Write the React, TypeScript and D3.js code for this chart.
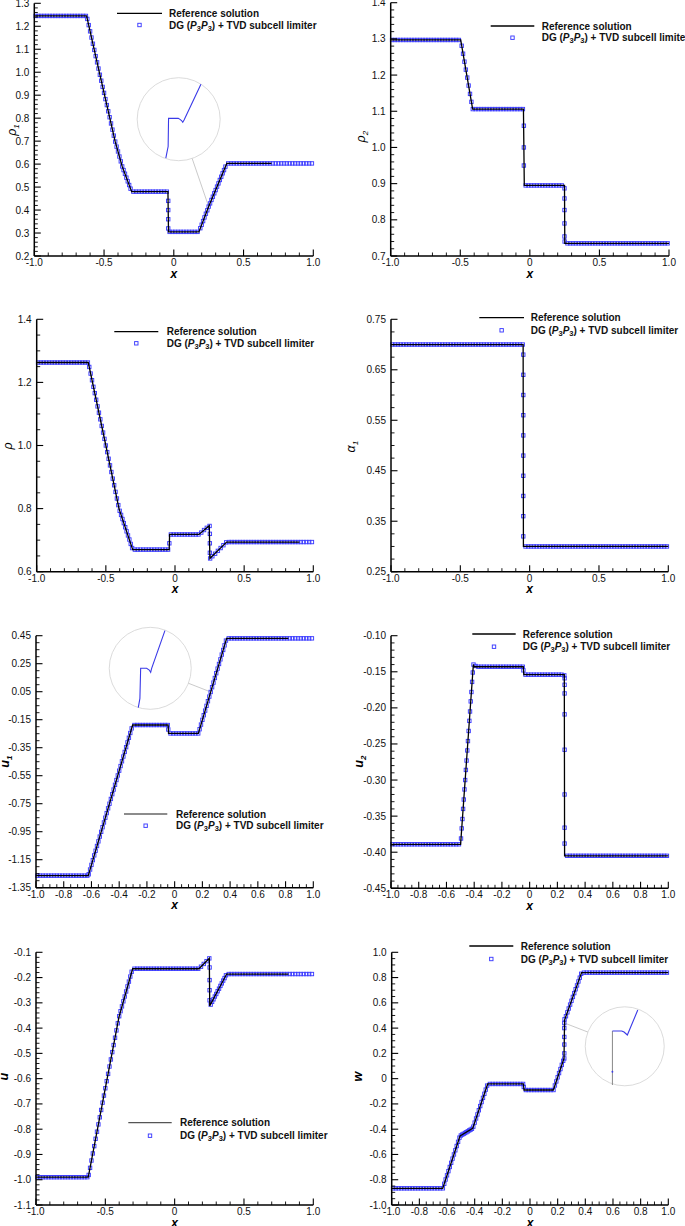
import React from "react";
import * as d3 from "d3";

// shared x grid of the DG output (cell centres)
const X = [
  -0.99,-0.97,-0.95,-0.93,-0.91,-0.89,-0.87,-0.85,-0.83,-0.81,
  -0.79,-0.77,-0.75,-0.73,-0.71,-0.69,-0.67,-0.65,-0.63,-0.61,
  -0.59,-0.57,-0.55,-0.53,-0.51,-0.49,-0.47,-0.45,-0.43,-0.41,
  -0.39,-0.37,-0.35,-0.33,-0.31,-0.29,-0.27,-0.25,-0.23,-0.21,
  -0.19,-0.17,-0.15,-0.13,-0.11,-0.09,-0.07,-0.05,-0.03,-0.01,
  0.01,0.03,0.05,0.07,0.09,0.11,0.13,0.15,0.17,0.19,
  0.21,0.23,0.25,0.27,0.29,0.31,0.33,0.35,0.37,0.39,
  0.41,0.43,0.45,0.47,0.49,0.51,0.53,0.55,0.57,0.59,
  0.61,0.63,0.65,0.67,0.69,0.71,0.73,0.75,0.77,0.79,
  0.81,0.83,0.85,0.87,0.89,0.91,0.93,0.95,0.97,0.99,
];

// ---------- DG (P3P3) + TVD subcell limiter values ----------
const DG_RHO1 = [
  1.245,1.245,1.245,1.245,1.245,1.245,1.245,1.245,1.245,1.245,
  1.245,1.245,1.245,1.245,1.245,1.245,1.245,1.245,1.245,1.205,
  1.151,1.097,1.043,0.989,0.936,0.883,0.830,0.777,0.724,0.676,
  0.633,0.590,0.558,0.525,0.493,0.48,0.48,0.48,0.48,0.48,
  0.48,0.48,0.48,0.48,0.48,0.48,0.48,0.48,0.305,0.305,
  0.305,0.305,0.305,0.305,0.305,0.305,0.305,0.305,0.305,0.321,
  0.352,0.384,0.415,0.444,0.473,0.502,0.531,0.560,0.589,0.603,
  0.603,0.603,0.603,0.603,0.603,0.603,0.603,0.603,0.603,0.603,
  0.603,0.603,0.603,0.603,0.603,0.603,0.603,0.603,0.603,0.603,
  0.603,0.603,0.603,0.603,0.603,0.603,0.603,0.603,0.603,0.603,
];
const DG_RHO2 = [
  1.297,1.297,1.297,1.297,1.297,1.297,1.297,1.297,1.297,1.297,
  1.297,1.297,1.297,1.297,1.297,1.297,1.297,1.297,1.297,1.297,
  1.297,1.297,1.297,1.297,1.297,1.281,1.237,1.193,1.148,1.106,
  1.106,1.106,1.106,1.106,1.106,1.106,1.106,1.106,1.106,1.106,
  1.106,1.106,1.106,1.106,1.106,1.106,1.106,1.106,0.895,0.895,
  0.895,0.895,0.895,0.895,0.895,0.895,0.895,0.895,0.895,0.895,
  0.895,0.895,0.740,0.735,0.735,0.735,0.735,0.735,0.735,0.735,
  0.735,0.735,0.735,0.735,0.735,0.735,0.735,0.735,0.735,0.735,
  0.735,0.735,0.735,0.735,0.735,0.735,0.735,0.735,0.735,0.735,
  0.735,0.735,0.735,0.735,0.735,0.735,0.735,0.735,0.735,0.735,
];
const DG_RHO = [
  1.263,1.263,1.263,1.263,1.263,1.263,1.263,1.263,1.263,1.263,
  1.263,1.263,1.263,1.263,1.263,1.263,1.263,1.263,1.263,1.228,
  1.186,1.145,1.104,1.062,1.021,0.979,0.937,0.895,0.853,0.811,
  0.780,0.754,0.728,0.702,0.675,0.670,0.670,0.670,0.670,0.670,
  0.670,0.670,0.670,0.670,0.670,0.670,0.670,0.670,0.718,0.718,
  0.718,0.718,0.718,0.718,0.718,0.718,0.718,0.718,0.718,0.724,
  0.732,0.739,0.745,0.649,0.657,0.666,0.675,0.684,0.693,0.694,
  0.694,0.694,0.694,0.694,0.694,0.694,0.694,0.694,0.694,0.694,
  0.694,0.694,0.694,0.694,0.694,0.694,0.694,0.694,0.694,0.694,
  0.694,0.694,0.694,0.694,0.694,0.694,0.694,0.694,0.694,0.694,
];
const DG_ALPHA1 = [
  0.70,0.70,0.70,0.70,0.70,0.70,0.70,0.70,0.70,0.70,
  0.70,0.70,0.70,0.70,0.70,0.70,0.70,0.70,0.70,0.70,
  0.70,0.70,0.70,0.70,0.70,0.70,0.70,0.70,0.70,0.70,
  0.70,0.70,0.70,0.70,0.70,0.70,0.70,0.70,0.70,0.70,
  0.70,0.70,0.70,0.70,0.70,0.70,0.70,0.70,0.30,0.30,
  0.30,0.30,0.30,0.30,0.30,0.30,0.30,0.30,0.30,0.30,
  0.30,0.30,0.30,0.30,0.30,0.30,0.30,0.30,0.30,0.30,
  0.30,0.30,0.30,0.30,0.30,0.30,0.30,0.30,0.30,0.30,
  0.30,0.30,0.30,0.30,0.30,0.30,0.30,0.30,0.30,0.30,
  0.30,0.30,0.30,0.30,0.30,0.30,0.30,0.30,0.30,0.30,
];
const DG_U1 = [
  -1.264,-1.264,-1.264,-1.264,-1.264,-1.264,-1.264,-1.264,-1.264,-1.264,
  -1.264,-1.264,-1.264,-1.264,-1.264,-1.264,-1.264,-1.264,-1.264,-1.220,
  -1.153,-1.086,-1.019,-0.951,-0.884,-0.817,-0.750,-0.682,-0.615,-0.548,
  -0.481,-0.413,-0.346,-0.279,-0.212,-0.188,-0.188,-0.188,-0.188,-0.188,
  -0.188,-0.188,-0.188,-0.188,-0.188,-0.188,-0.188,-0.188,-0.248,-0.248,
  -0.248,-0.248,-0.248,-0.248,-0.248,-0.248,-0.248,-0.248,-0.248,-0.185,
  -0.118,-0.051,0.015,0.082,0.148,0.215,0.281,0.348,0.415,0.431,
  0.431,0.431,0.431,0.431,0.431,0.431,0.431,0.431,0.431,0.431,
  0.431,0.431,0.431,0.431,0.431,0.431,0.431,0.431,0.431,0.431,
  0.431,0.431,0.431,0.431,0.431,0.431,0.431,0.431,0.431,0.431,
];
const DG_U2 = [
  -0.389,-0.389,-0.389,-0.389,-0.389,-0.389,-0.389,-0.389,-0.389,-0.389,
  -0.389,-0.389,-0.389,-0.389,-0.389,-0.389,-0.389,-0.389,-0.389,-0.389,
  -0.389,-0.389,-0.389,-0.389,-0.389,-0.367,-0.313,-0.259,-0.205,-0.151,
  -0.142,-0.143,-0.143,-0.143,-0.143,-0.143,-0.143,-0.143,-0.143,-0.143,
  -0.143,-0.143,-0.143,-0.143,-0.143,-0.143,-0.143,-0.143,-0.154,-0.154,
  -0.154,-0.154,-0.154,-0.154,-0.154,-0.154,-0.154,-0.154,-0.154,-0.154,
  -0.154,-0.154,-0.155,-0.405,-0.405,-0.405,-0.405,-0.405,-0.405,-0.405,
  -0.405,-0.405,-0.405,-0.405,-0.405,-0.405,-0.405,-0.405,-0.405,-0.405,
  -0.405,-0.405,-0.405,-0.405,-0.405,-0.405,-0.405,-0.405,-0.405,-0.405,
  -0.405,-0.405,-0.405,-0.405,-0.405,-0.405,-0.405,-0.405,-0.405,-0.405,
];
const DG_U = [
  -0.99,-0.99,-0.99,-0.99,-0.99,-0.99,-0.99,-0.99,-0.99,-0.99,
  -0.99,-0.99,-0.99,-0.99,-0.99,-0.99,-0.99,-0.99,-0.99,-0.953,
  -0.896,-0.838,-0.781,-0.724,-0.667,-0.610,-0.552,-0.495,-0.438,-0.381,
  -0.333,-0.294,-0.255,-0.216,-0.177,-0.165,-0.165,-0.165,-0.165,-0.165,
  -0.165,-0.165,-0.165,-0.165,-0.165,-0.165,-0.165,-0.165,-0.165,-0.165,
  -0.165,-0.165,-0.165,-0.165,-0.165,-0.165,-0.165,-0.165,-0.165,-0.157,
  -0.146,-0.135,-0.124,-0.296,-0.275,-0.254,-0.233,-0.212,-0.191,-0.186,
  -0.186,-0.186,-0.186,-0.186,-0.186,-0.186,-0.186,-0.186,-0.186,-0.186,
  -0.186,-0.186,-0.186,-0.186,-0.186,-0.186,-0.186,-0.186,-0.186,-0.186,
  -0.186,-0.186,-0.186,-0.186,-0.186,-0.186,-0.186,-0.186,-0.186,-0.186,
];
const DG_W = [
  -0.868,-0.868,-0.868,-0.868,-0.868,-0.868,-0.868,-0.868,-0.868,-0.868,
  -0.868,-0.868,-0.868,-0.868,-0.868,-0.868,-0.868,-0.868,-0.868,-0.798,
  -0.732,-0.666,-0.600,-0.533,-0.467,-0.443,-0.430,-0.417,-0.404,-0.380,
  -0.315,-0.250,-0.185,-0.120,-0.055,-0.042,-0.042,-0.042,-0.042,-0.042,
  -0.042,-0.042,-0.042,-0.042,-0.042,-0.042,-0.042,-0.042,-0.090,-0.090,
  -0.090,-0.090,-0.090,-0.090,-0.090,-0.090,-0.090,-0.090,-0.090,-0.022,
  0.044,0.109,0.470,0.525,0.586,0.647,0.708,0.769,0.830,0.839,
  0.839,0.839,0.839,0.839,0.839,0.839,0.839,0.839,0.839,0.839,
  0.839,0.839,0.839,0.839,0.839,0.839,0.839,0.839,0.839,0.839,
  0.839,0.839,0.839,0.839,0.839,0.839,0.839,0.839,0.839,0.839,
];

// extra DG sub-cell samples (inside discontinuities and along steep waves) [x, value]
const EX_RHO1 = [
  [-0.04,0.44],[-0.04,0.40],[-0.04,0.36],[-0.04,0.32],
  [-0.62,1.232],[-0.60,1.178],[-0.58,1.124],[-0.56,1.070],[-0.54,1.016],[-0.52,0.963],[-0.50,0.910],[-0.48,0.857],
  [-0.46,0.804],[-0.44,0.750],[-0.42,0.698],[-0.40,0.655],[-0.38,0.612],[-0.36,0.574],[-0.34,0.541],[-0.32,0.509],
  [0.20,0.336],[0.22,0.368],[0.24,0.399],[0.26,0.429],[0.28,0.458],[0.30,0.487],[0.32,0.516],[0.34,0.545],[0.36,0.574],
];
const EX_RHO2 = [
  [-0.043,1.06],[-0.043,1.0],[-0.043,0.95],[0.249,0.887],[0.249,0.859],[0.249,0.827],[0.249,0.79],[0.249,0.754],
  [-0.48,1.259],[-0.46,1.215],[-0.44,1.171],[-0.42,1.126],
];
const EX_RHO = [
  [-0.041,0.69],[0.252,0.72],[0.252,0.69],[0.252,0.66],[0.254,0.642],
  [-0.62,1.249],[-0.60,1.207],[-0.58,1.166],[-0.56,1.124],[-0.54,1.083],[-0.52,1.041],[-0.50,1.0],[-0.48,0.958],
  [-0.46,0.916],[-0.44,0.874],[-0.42,0.832],[-0.40,0.793],[-0.38,0.767],[-0.36,0.741],[-0.34,0.715],[-0.32,0.688],
];
const EX_ALPHA1 = [[-0.046,0.68],[-0.046,0.64],[-0.046,0.60],[-0.046,0.56],[-0.046,0.52],[-0.046,0.48],[-0.046,0.44],[-0.046,0.40],[-0.046,0.36],[-0.046,0.32]];
const EX_U1 = [
  [-0.046,-0.22],
  [-0.62,-1.254],[-0.60,-1.187],[-0.58,-1.119],[-0.56,-1.052],[-0.54,-0.985],[-0.52,-0.918],[-0.50,-0.850],[-0.48,-0.783],
  [-0.46,-0.716],[-0.44,-0.649],[-0.42,-0.581],[-0.40,-0.514],[-0.38,-0.447],[-0.36,-0.380],[-0.34,-0.312],[-0.32,-0.245],
  [0.18,-0.218],[0.20,-0.151],[0.22,-0.085],[0.24,-0.018],[0.26,0.048],[0.28,0.115],[0.30,0.182],[0.32,0.248],[0.34,0.315],[0.36,0.381],
];
const EX_U2 = [
  [-0.045,-0.148],[0.252,-0.159],[0.252,-0.168],[0.252,-0.180],[0.252,-0.209],[0.252,-0.258],[0.252,-0.320],[0.252,-0.366],[0.252,-0.388],
  [-0.495,-0.381],[-0.485,-0.354],[-0.48,-0.340],[-0.475,-0.327],[-0.465,-0.300],[-0.46,-0.286],[-0.455,-0.273],[-0.445,-0.246],
  [-0.44,-0.232],[-0.435,-0.218],[-0.425,-0.191],[-0.42,-0.178],[-0.415,-0.164],[-0.405,-0.140],
];
const EX_U = [
  [0.252,-0.16],[0.252,-0.21],[0.252,-0.25],[0.252,-0.29],
  [-0.62,-0.981],[-0.60,-0.924],[-0.58,-0.867],[-0.56,-0.810],[-0.54,-0.753],[-0.52,-0.695],[-0.50,-0.638],[-0.48,-0.581],
  [-0.46,-0.524],[-0.44,-0.467],[-0.42,-0.409],[-0.40,-0.353],[-0.38,-0.314],[-0.36,-0.275],[-0.34,-0.235],[-0.32,-0.196],
  [0.26,-0.307],[0.28,-0.286],[0.30,-0.265],[0.32,-0.244],[0.34,-0.223],[0.36,-0.202],
];
const EX_W = [
  [-0.045,-0.066],[0.248,0.16],[0.248,0.20],[0.248,0.27],[0.248,0.33],[0.248,0.40],[0.248,0.44],
  [-0.62,-0.832],[-0.60,-0.765],[-0.58,-0.699],[-0.56,-0.633],[-0.54,-0.567],[-0.52,-0.500],[-0.50,-0.450],[-0.48,-0.437],
  [-0.46,-0.424],[-0.44,-0.410],[-0.42,-0.397],[-0.40,-0.348],[-0.38,-0.283],[-0.36,-0.217],[-0.34,-0.152],[-0.32,-0.087],
  [0.18,-0.054],[0.20,0.011],[0.22,0.076],[0.24,0.141],
  [0.26,0.494],[0.28,0.555],[0.30,0.616],[0.32,0.677],[0.34,0.738],[0.36,0.799],
];

// ---------- reference solution (breakpoints) ----------
const REF_RHO1 = [[-1,1.245],[-0.625,1.245],[-0.534,1.0],[-0.421,0.7],[-0.37,0.59],[-0.302,0.48],[-0.042,0.48],[-0.038,0.305],[0.18,0.305],[0.25,0.415],[0.38,0.603],[0.70,0.603]];
const REF_RHO2 = [[-1,1.297],[-0.497,1.297],[-0.411,1.106],[-0.046,1.106],[-0.04,0.895],[0.249,0.895],[0.251,0.735],[1,0.735]];
const REF_RHO = [[-1,1.263],[-0.627,1.263],[-0.5,1.0],[-0.405,0.8],[-0.306,0.67],[-0.042,0.67],[-0.039,0.718],[0.173,0.718],[0.248,0.746],[0.252,0.642],[0.373,0.694],[0.90,0.694]];
const REF_ALPHA1 = [[-1,0.7],[-0.047,0.7],[-0.045,0.3],[1,0.3]];
const REF_U1 = [[-1,-1.264],[-0.623,-1.264],[-0.303,-0.188],[-0.047,-0.188],[-0.044,-0.248],[0.171,-0.248],[0.375,0.431],[0.82,0.431]];
const REF_U2 = [[-1,-0.389],[-0.498,-0.389],[-0.406,-0.14],[-0.4,-0.143],[-0.046,-0.143],[-0.042,-0.154],[0.25,-0.154],[0.252,-0.405],[1,-0.405]];
const REF_U = [[-1,-0.99],[-0.623,-0.99],[-0.401,-0.355],[-0.303,-0.165],[0.175,-0.165],[0.25,-0.124],[0.253,-0.312],[0.375,-0.186],[0.82,-0.186]];
const REF_W = [[-1,-0.868],[-0.631,-0.868],[-0.506,-0.454],[-0.414,-0.393],[-0.306,-0.042],[-0.048,-0.042],[-0.043,-0.09],[0.169,-0.09],[0.246,0.161],[0.25,0.464],[0.373,0.839],[1,0.839]];

// ---------- ticks ----------
const XT_HALF = [-1, -0.5, 0, 0.5, 1];
const XL_HALF = ["-1.0", "-0.5", "0", "0.5", "1.0"];
const XT_FIFTH = [-1, -0.8, -0.6, -0.4, -0.2, 0, 0.2, 0.4, 0.6, 0.8, 1];
const XL_FIFTH = ["-1.0", "-0.8", "-0.6", "-0.4", "-0.2", "0", "0.2", "0.4", "0.6", "0.8", "1.0"];
const YT_RHO1 = [1.3, 1.2, 1.1, 1.0, 0.9, 0.8, 0.7, 0.6, 0.5, 0.4, 0.3, 0.2];
const YL_RHO1 = ["1.3", "1.2", "1.1", "1.0", "0.9", "0.8", "0.7", "0.6", "0.5", "0.4", "0.3", "0.2"];
const YT_RHO2 = [1.4, 1.3, 1.2, 1.1, 1.0, 0.9, 0.8, 0.7];
const YL_RHO2 = ["1.4", "1.3", "1.2", "1.1", "1.0", "0.9", "0.8", "0.7"];
const YT_RHO = [1.4, 1.2, 1.0, 0.8, 0.6];
const YL_RHO = ["1.4", "1.2", "1.0", "0.8", "0.6"];
const YT_ALPHA1 = [0.75, 0.65, 0.55, 0.45, 0.35, 0.25];
const YL_ALPHA1 = ["0.75", "0.65", "0.55", "0.45", "0.35", "0.25"];
const YT_U1 = [0.45, 0.25, 0.05, -0.15, -0.35, -0.55, -0.75, -0.95, -1.15, -1.35];
const YL_U1 = ["0.45", "0.25", "0.05", "-0.15", "-0.35", "-0.55", "-0.75", "-0.95", "-1.15", "-1.35"];
const YT_U2 = [-0.1, -0.15, -0.2, -0.25, -0.3, -0.35, -0.4, -0.45];
const YL_U2 = ["-0.10", "-0.15", "-0.20", "-0.25", "-0.30", "-0.35", "-0.40", "-0.45"];
const YT_U = [-0.1, -0.2, -0.3, -0.4, -0.5, -0.6, -0.7, -0.8, -0.9, -1.0, -1.1];
const YL_U = ["-0.1", "-0.2", "-0.3", "-0.4", "-0.5", "-0.6", "-0.7", "-0.8", "-0.9", "-1.0", "-1.1"];
const YT_W = [1.0, 0.8, 0.6, 0.4, 0.2, 0, -0.2, -0.4, -0.6, -0.8, -1.0];
const YL_W = ["1.0", "0.8", "0.6", "0.4", "0.2", "0", "-0.2", "-0.4", "-0.6", "-0.8", "-1.0"];

// ---------- inset (magnified views), local unit coordinates ----------
const INSET_RHO1 = [[0.345,0.032],[0.361,0.111],[0.373,0.171],[0.378,0.51],[0.495,0.51],[0.516,0.498],[0.534,0.484],[0.549,0.463],[0.565,0.49],[0.768,0.92]];
const INSET_U1 = [[0.354,0.02],[0.374,0.134],[0.383,0.5],[0.456,0.5],[0.488,0.479],[0.505,0.451],[0.517,0.5],[0.679,0.96]];
const INSET_W_REF = [[0.344,0.01],[0.344,0.694]];
const INSET_W = [[0.344,0.694],[0.462,0.694],[0.491,0.68],[0.533,0.643],[0.665,0.959]];

// ---------- layout ----------
type Pt = number[];
interface PanelCfg {
  box: number[];
  yDomain: number[];
  dg: number[];
  extra: Pt[];
  ref: Pt[];
  xt: number[]; xl: string[]; xMinor: number;
  yt: number[]; yl: string[]; yMinor: number;
  yLabel: { main: string; sub?: string; bold: boolean };
  yLabelPos: number[];
  legend: number[];
  legendLine?: string;
  inset?: { c: Pt; r: number; target: Pt; line: Pt[]; ref?: Pt[]; dot?: Pt };
}

const PANELS: PanelCfg[] = [
  { box: [34.3, 3.3, 313.3, 256], yDomain: [0.2, 1.3], dg: DG_RHO1, extra: EX_RHO1, ref: REF_RHO1,
    xt: XT_HALF, xl: XL_HALF, xMinor: 0.1, yt: YT_RHO1, yl: YL_RHO1, yMinor: 0.02,
    yLabel: { main: "ρ", sub: "1", bold: false }, yLabelPos: [12, 130], legend: [117, 162, 13.3, 25, 169],
    inset: { c: [0.035, 0.7955], r: 41.5, target: [0.25, 0.415], line: INSET_RHO1 } },
  { box: [390.7, 2.7, 669, 256], yDomain: [0.7, 1.4], dg: DG_RHO2, extra: EX_RHO2, ref: REF_RHO2,
    xt: XT_HALF, xl: XL_HALF, xMinor: 0.1, yt: YT_RHO2, yl: YL_RHO2, yMinor: 0.02,
    yLabel: { main: "ρ", sub: "2", bold: false }, yLabelPos: [360.7, 136.7], legend: [490.7, 534.3, 26, 37.7, 541.7] },
  { box: [36.7, 319.3, 313.3, 571.7], yDomain: [0.6, 1.4], dg: DG_RHO, extra: EX_RHO, ref: REF_RHO,
    xt: XT_HALF, xl: XL_HALF, xMinor: 0.1, yt: YT_RHO, yl: YL_RHO, yMinor: 0.05,
    yLabel: { main: "ρ", bold: false }, yLabelPos: [8.3, 446], legend: [114.3, 158.3, 331.7, 343.3, 166.7] },
  { box: [391, 319.3, 668.3, 571.7], yDomain: [0.25, 0.75], dg: DG_ALPHA1, extra: EX_ALPHA1, ref: REF_ALPHA1,
    xt: XT_HALF, xl: XL_HALF, xMinor: 0.1, yt: YT_ALPHA1, yl: YL_ALPHA1, yMinor: 0.025,
    yLabel: { main: "α", sub: "1", bold: false }, yLabelPos: [350.7, 446.7], legend: [479.3, 524, 317.7, 330.3, 530.7] },
  { box: [36, 635.7, 313.3, 887.7], yDomain: [-1.35, 0.45], dg: DG_U1, extra: EX_U1, ref: REF_U1,
    xt: XT_FIFTH, xl: XL_FIFTH, xMinor: 0.05, yt: YT_U1, yl: YL_U1, yMinor: 0.05,
    yLabel: { main: "u", sub: "1", bold: true }, yLabelPos: [5, 761.7], legend: [124, 167.3, 814, 825.7, 176], legendLine: "#666",
    inset: { c: [-0.176, 0.217], r: 41, target: [0.255, 0.05], line: INSET_U1 } },
  { box: [391, 635.7, 668.3, 888.3], yDomain: [-0.45, -0.1], dg: DG_U2, extra: EX_U2, ref: REF_U2,
    xt: XT_FIFTH, xl: XL_FIFTH, xMinor: 0.05, yt: YT_U2, yl: YL_U2, yMinor: 0.01,
    yLabel: { main: "u", sub: "2", bold: true }, yLabelPos: [359.3, 761.7], legend: [472.3, 515.7, 634, 646.7, 522.7] },
  { box: [36, 952.3, 313.3, 1205], yDomain: [-1.1, -0.1], dg: DG_U, extra: EX_U, ref: REF_U,
    xt: XT_HALF, xl: XL_HALF, xMinor: 0.1, yt: YT_U, yl: YL_U, yMinor: 0.02,
    yLabel: { main: "u", bold: true }, yLabelPos: [4, 1076.7], legend: [128.3, 171.7, 1122.7, 1135.7, 180], legendLine: "#555",
    inset: undefined },
  { box: [391.7, 952.3, 668.3, 1205], yDomain: [-1.0, 1.0], dg: DG_W, extra: EX_W, ref: REF_W,
    xt: XT_FIFTH, xl: XL_FIFTH, xMinor: 0.05, yt: YT_W, yl: YL_W, yMinor: 0.05,
    yLabel: { main: "w", bold: true }, yLabelPos: [358.3, 1076.7], legend: [469.3, 513.3, 946, 959, 520.7],
    inset: { c: [0.685, 0.256], r: 39.5, target: [0.25, 0.44], line: INSET_W, ref: INSET_W_REF, dot: [0.344, 0.178] } },
];

const BLUE = "#3c3cff";
const FONT = "'Liberation Sans', Arial, Helvetica, sans-serif";

function minors(lo: number, hi: number, step: number, majors: number[]) {
  const out: number[] = [];
  const n = Math.round((hi - lo) / step);
  for (let i = 0; i <= n; i++) {
    const v = lo + i * step;
    if (!majors.some((m) => Math.abs(m - v) < step * 0.3)) out.push(v);
  }
  return out;
}

function Square({ cx, cy }: { cx: number; cy: number }) {
  return <rect x={cx - 1.7} y={cy - 1.7} width={3.4} height={3.4} fill="none" stroke={BLUE} strokeWidth={0.95} />;
}

function Panel({ p }: { p: PanelCfg }) {
  const [x0, y0, x1, y1] = p.box;
  const x = d3.scaleLinear().domain([-1, 1]).range([x0, x1]);
  const y = d3.scaleLinear().domain(p.yDomain).range([y1, y0]);
  const line = d3.line<Pt>().x((d) => x(d[0])).y((d) => y(d[1]));
  const pts: Pt[] = X.map((xv, i) => [xv, p.dg[i]]).concat(p.extra);
  const xm = minors(-1, 1, p.xMinor, p.xt);
  const ym = minors(p.yDomain[0], p.yDomain[1], p.yMinor, p.yt);
  const [lx0, lx1, ly1, ly2, tx] = p.legend;
  const cxLabel = (x0 + x1) / 2;

  let inset = null;
  if (p.inset) {
    const ins = p.inset;
    const ccx = x(ins.c[0]);
    const ccy = y(ins.c[1]);
    const r = ins.r;
    const ix = d3.scaleLinear().domain([0, 1]).range([ccx - r, ccx + r]);
    const iy = d3.scaleLinear().domain([0, 1]).range([ccy + r, ccy - r]);
    const il = d3.line<Pt>().x((d) => ix(d[0])).y((d) => iy(d[1]));
    const tX = x(ins.target[0]);
    const tY = y(ins.target[1]);
    const ang = Math.atan2(tY - ccy, tX - ccx);
    inset = (
      <g>
        <circle cx={ccx} cy={ccy} r={r} fill="none" stroke="#d2d2d2" strokeWidth={0.8} />
        <line x1={ccx + r * Math.cos(ang)} y1={ccy + r * Math.sin(ang)} x2={tX} y2={tY} stroke="#bdbdbd" strokeWidth={0.8} />
        {ins.ref && <path d={il(ins.ref) || ""} fill="none" stroke="#888" strokeWidth={1} />}
        <path d={il(ins.line) || ""} fill="none" stroke="#3a3ae8" strokeWidth={1.1} />
        {ins.dot && <circle cx={ix(ins.dot[0])} cy={iy(ins.dot[1])} r={0.9} fill="#3a3ae8" />}
      </g>
    );
  }

  const yl = p.yLabel;
  return (
    <g fontFamily={FONT}>
      {inset}
      <g>
        {pts.map((d, i) => (
          <Square key={i} cx={x(d[0])} cy={y(d[1])} />
        ))}
      </g>
      <path d={line(p.ref) || ""} fill="none" stroke="#000" strokeWidth={1.3} />
      <line x1={x0} y1={y0} x2={x0} y2={y1} stroke="#000" strokeWidth={1.5} />
      <line x1={x0} y1={y1} x2={x1} y2={y1} stroke="#000" strokeWidth={1.5} />
      {p.yt.map((v, i) => (
        <g key={"yt" + i}>
          <line x1={x0} x2={x0 + 6.5} y1={y(v)} y2={y(v)} stroke="#000" strokeWidth={1.1} />
          <text x={x0 - 5} y={y(v) + 3.5} fontSize={10} textAnchor="end" fill="#111">{p.yl[i]}</text>
        </g>
      ))}
      {ym.map((v, i) => (
        <line key={"ym" + i} x1={x0} x2={x0 + 3.5} y1={y(v)} y2={y(v)} stroke="#000" strokeWidth={0.9} />
      ))}
      {p.xt.map((v, i) => (
        <g key={"xt" + i}>
          <line x1={x(v)} x2={x(v)} y1={y1} y2={y1 - 6.5} stroke="#000" strokeWidth={1.1} />
          <text x={x(v)} y={y1 + 10} fontSize={10} textAnchor="middle" fill="#111">{p.xl[i]}</text>
        </g>
      ))}
      {xm.map((v, i) => (
        <line key={"xm" + i} x1={x(v)} x2={x(v)} y1={y1} y2={y1 - 3.5} stroke="#000" strokeWidth={0.9} />
      ))}
      <text x={cxLabel} y={y1 + 21.5} fontSize={12} fontWeight="bold" fontStyle="italic" textAnchor="middle">x</text>
      <text transform={`translate(${p.yLabelPos[0] + 4},${p.yLabelPos[1]}) rotate(-90)`} fontSize={12.5}
        fontWeight={yl.bold ? "bold" : "normal"} fontStyle="italic" textAnchor="middle">
        {yl.main}
        {yl.sub && <tspan fontSize={8} dy={3}>{yl.sub}</tspan>}
      </text>
      <line x1={lx0} x2={lx1} y1={ly1} y2={ly1} stroke={p.legendLine || "#000"} strokeWidth={1.3} />
      <Square cx={(lx0 + lx1) / 2} cy={ly2} />
      <text x={tx} y={ly1 + 3.6} fontSize={10} fontWeight="bold" fill="#111">Reference solution</text>
      <text x={tx} y={ly2 + 3.6} fontSize={10} fontWeight="bold" fill="#111">
        DG (<tspan fontStyle="italic">P</tspan>
        <tspan fontSize={7.5} dy={2}>3</tspan>
        <tspan fontStyle="italic" dy={-2}>P</tspan>
        <tspan fontSize={7.5} dy={2}>3</tspan>
        <tspan dy={-2}>) + TVD subcell limiter</tspan>
      </text>
    </g>
  );
}

export default function App() {
  return (
    <svg width={685} height={1226} style={{ position: "absolute", left: 0, top: 0, background: "#fff" }}>
      <rect x={0} y={0} width={685} height={1226} fill="#fff" />
      {PANELS.map((p, i) => (
        <Panel key={i} p={p} />
      ))}
    </svg>
  );
}
